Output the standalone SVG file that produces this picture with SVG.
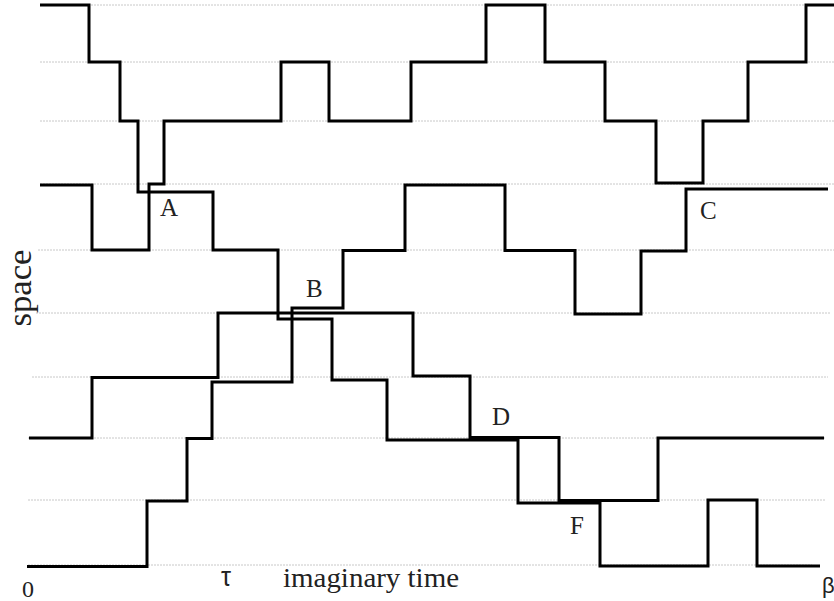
<svg xmlns="http://www.w3.org/2000/svg" width="834" height="601" viewBox="0 0 834 601">
<style>
.grid{stroke:#c8c8c8;stroke-width:1;stroke-dasharray:2 1;fill:none}
.wl{stroke:#000;stroke-width:3;fill:none;stroke-linejoin:miter;stroke-linecap:butt}
.lbl{font-family:"Liberation Serif","Times New Roman",serif;font-size:25px;fill:#222}
</style>
<rect width="834" height="601" fill="#fff"/>
<g id="grid">
<line class="grid" x1="40" y1="5" x2="834" y2="5"/>
<line class="grid" x1="40" y1="62" x2="834" y2="62"/>
<line class="grid" x1="40" y1="121" x2="834" y2="121"/>
<line class="grid" x1="40" y1="184" x2="834" y2="184"/>
<line class="grid" x1="38" y1="250" x2="834" y2="250"/>
<line class="grid" x1="36" y1="313" x2="831" y2="313"/>
<line class="grid" x1="32" y1="377" x2="828" y2="377"/>
<line class="grid" x1="28" y1="438" x2="826" y2="438"/>
<line class="grid" x1="28" y1="500" x2="825" y2="500"/>
<line class="grid" x1="28" y1="565" x2="812" y2="565"/>
</g>
<g id="worldlines">
<path id="line1" class="wl" d="M40,5 H89 V62 H120 V121 H138 V192 H213 V250 H278 V319 H332 V380 H387 V440 H518 V503 H600 V566 H708 V500 H757 V566 H820"/>
<path id="line2" class="wl" d="M40,185 H92 V250 H149 V184 H164 V121 H281 V62 H329 V121 H411 V62 H486 V5 H545 V62 H605 V121 H656 V183 H703 V121 H748 V62 H806 V5 H834"/>
<path id="line3" class="wl" d="M29,438 H92 V377.5 H218 V313 H413 V376 H470 V437.5 H559 V500.5 H658 V438 H824"/>
<path id="line4" class="wl" d="M27,566.5 H147 V501 H187 V438.5 H212 V382 H292 V308 H343 V250.5 H405 V185 H505 V250.5 H575 V314 H641 V251 H686 V189 H828"/>
</g>
<g id="labels">
<text class="lbl" x="160" y="216">A</text>
<text class="lbl" x="306" y="297">B</text>
<text class="lbl" x="700" y="219">C</text>
<text class="lbl" x="492" y="425">D</text>
<text class="lbl" x="570" y="534">F</text>
</g>
<g id="axes">
<text transform="translate(31,288) rotate(-90)" font-family="Liberation Serif, Times New Roman, serif" font-size="34" fill="#222" text-anchor="middle" textLength="77" lengthAdjust="spacingAndGlyphs">space</text>
<text x="283" y="587" font-family="Liberation Serif, Times New Roman, serif" font-size="27" fill="#222" textLength="176" lengthAdjust="spacingAndGlyphs">imaginary time</text>
<text x="22" y="597" font-family="Liberation Serif, Times New Roman, serif" font-size="24" fill="#222">0</text>
<text x="221" y="586" font-family="Liberation Sans, Arial, sans-serif" font-size="27" fill="#222" textLength="10" lengthAdjust="spacingAndGlyphs">τ</text>
<text x="822" y="593" font-family="Liberation Sans, Arial, sans-serif" font-size="22" fill="#222">β</text>
</g>
</svg>
